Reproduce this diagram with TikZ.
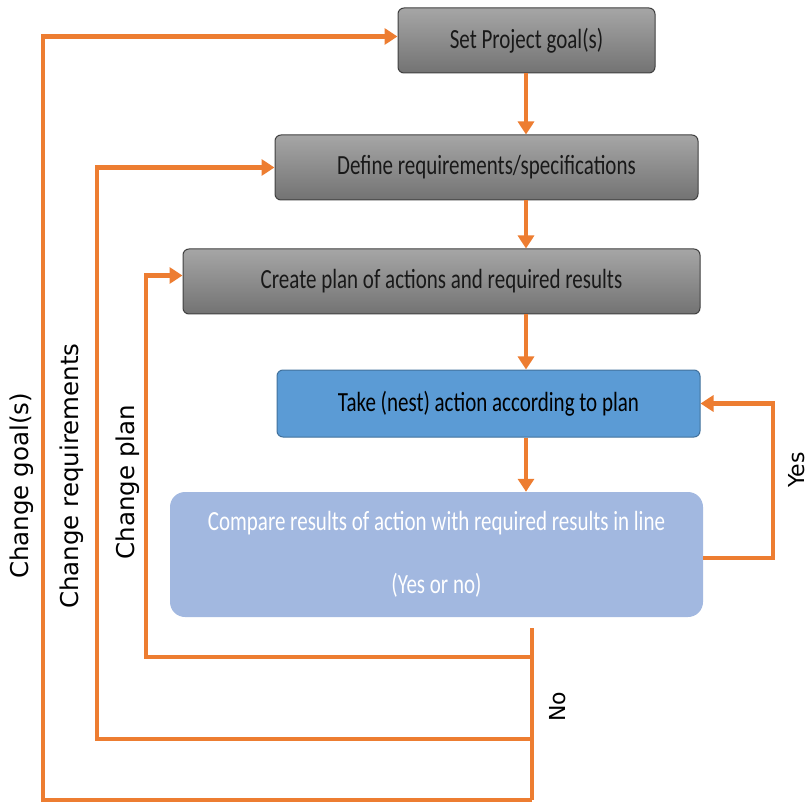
\documentclass[tikz,border=0pt]{standalone}
\usepackage{graphicx}
\usepackage{fontspec}
\setmainfont{Carlito}
\newfontfamily\lblfont{DejaVu Sans}
\usetikzlibrary{arrows.meta,positioning}
\definecolor{flowor}{HTML}{ED7D31}
\definecolor{actblue}{HTML}{5B9BD5}
\definecolor{actedge}{HTML}{41719C}
\definecolor{cmpblue}{HTML}{A2B8E0}
\newcommand{\tallt}[1]{\raisebox{-3pt}{\scalebox{1}[1.32]{#1}}}
\tikzset{
x=1pt, y=-1pt,
>={Triangle[length=13pt,width=16pt]},
flow/.style={draw=flowor, line width=4.5pt, ->},
link/.style={draw=flowor, line width=4.5pt},
graybox/.style={draw=black!75, line width=1pt, rounded corners=6pt,
  top color=black!35, bottom color=black!55, minimum height=65pt,
  font=\fontsize{21}{25}\selectfont, text=black!90},
lbl/.style={font=\lblfont\fontsize{24.5}{28}\selectfont, rotate=90},
}
\begin{document}
\begin{tikzpicture}
\useasboundingbox (0,0) rectangle (812,805);

\node[graybox, minimum width=257pt] (goal) at (526.5,40.5) {\tallt{Set Project goal(s)}};
\node[graybox, minimum width=423pt] (req) at (486.5,167.5) {\tallt{Define requirements/specifications}};
\node[graybox, minimum width=517pt] (plan) at (441.5,281.5) {\tallt{Create plan of actions and required results}};
\node[draw=actedge, line width=1pt, fill=actblue, rounded corners=6pt, minimum width=423pt,
  minimum height=67pt, font=\fontsize{21}{25}\selectfont] (act) at (488.5,403.5)
  {\tallt{Take (nest) action according to plan}};
\node[fill=cmpblue, rounded corners=15pt, minimum width=533pt, minimum height=125pt, text=white,
  align=center, font=\fontsize{21}{25}\selectfont] (cmp) at (436.5,554.5)
  {\tallt{Compare results of action with required results in line}\\[38pt]\tallt{(Yes or no)}};

\draw[flow] (goal.south -| 526,0) -- (req.north -| 526,0);
\draw[flow] (req.south -| 526,0) -- (plan.north -| 526,0);
\draw[flow] (plan.south -| 526,0) -- (act.north -| 526,0);
\draw[flow] (act.south -| 526,0) -- (cmp.north -| 526,0);

\coordinate (yes) at (773,558);
\draw[flow] (cmp.east |- yes) -- (yes) |- (act.east);
\node[lbl, font=\lblfont\fontsize{22}{26}\selectfont] at (797,470) {Yes};

\coordinate (n0) at (532,628);
\coordinate (n1) at (532,657);
\coordinate (n2) at (532,739);
\coordinate (n3) at (532,800);
\draw[link] (n0) -- (n3);
\draw[flow] (n1) -- (146,657) |- ([yshift=6pt]plan.west);
\draw[flow] (n2) -- (97,739) |- (req.west);
\draw[flow] (n3) -- (43,800) |- ([yshift=4pt]goal.west);
\node[lbl, font=\lblfont\fontsize{22}{26}\selectfont] at (558,707) {No};

\node[lbl] at (22,486) {Change goal(s)};
\node[lbl] at (72,476) {Change requirements};
\node[lbl] at (128,482) {Change plan};
\end{tikzpicture}
\end{document}
